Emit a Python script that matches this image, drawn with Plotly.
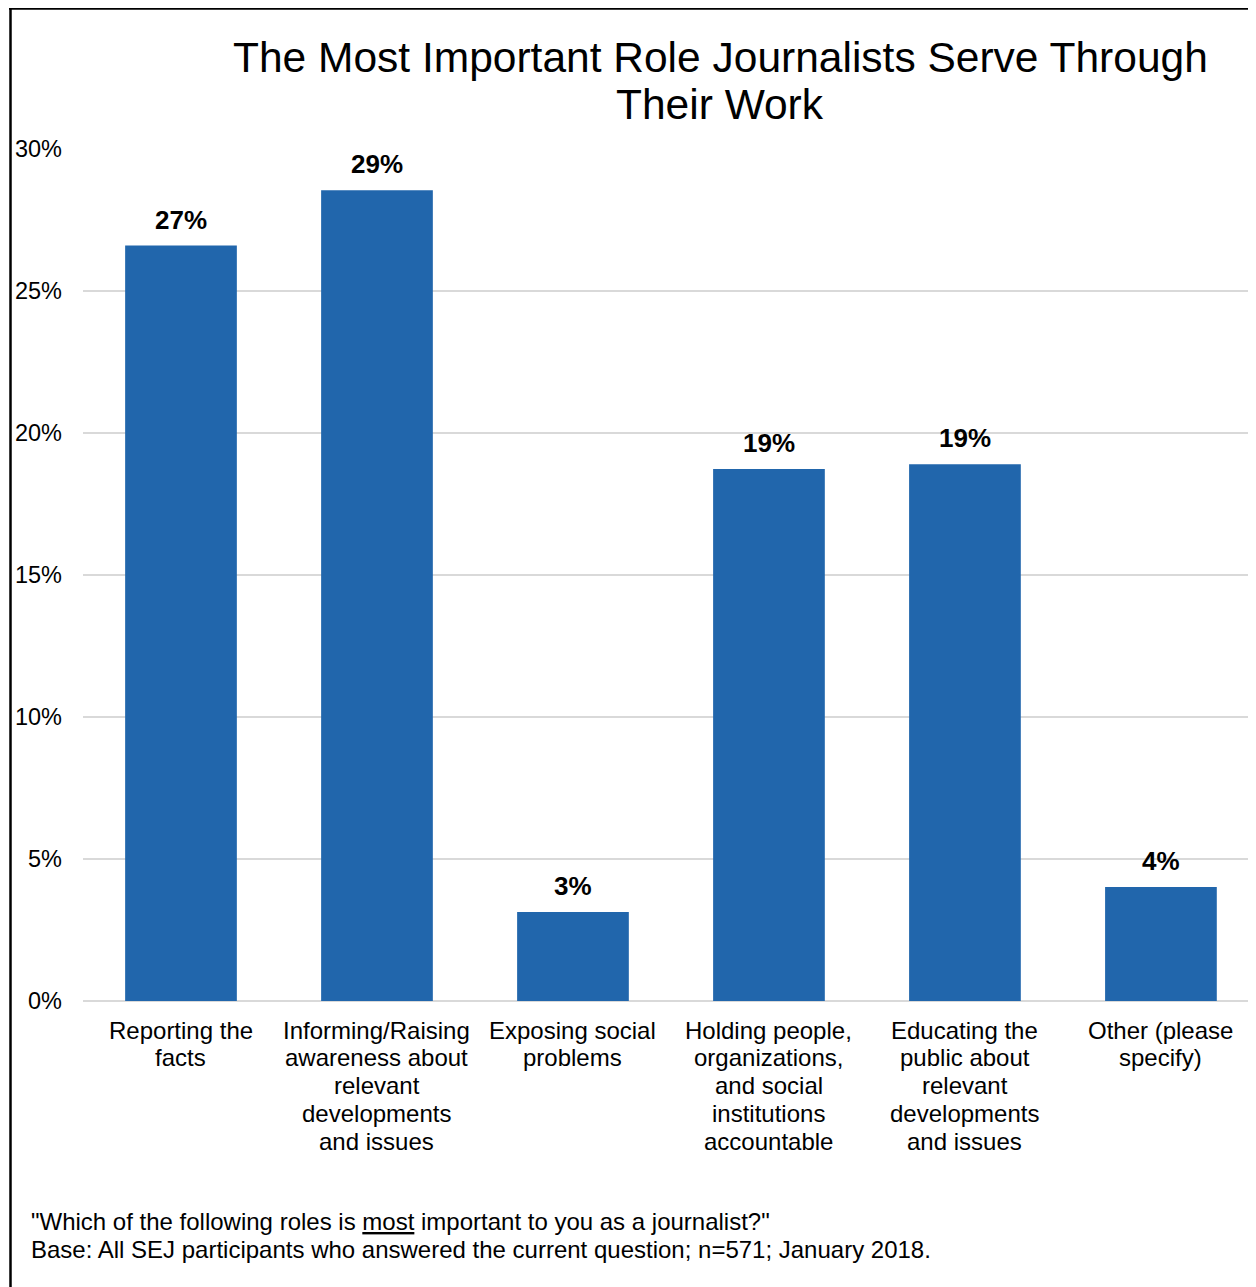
import plotly.graph_objects as go

categories = [
    "Reporting the<br>facts",
    "Informing/Raising<br>awareness about<br>relevant<br>developments<br>and issues",
    "Exposing social<br>problems",
    "Holding people,<br>organizations,<br>and social<br>institutions<br>accountable",
    "Educating the<br>public about<br>relevant<br>developments<br>and issues",
    "Other (please<br>specify)",
]
values = [26.6, 28.55, 3.13, 18.73, 18.9, 4.01]
value_labels = ["27%", "29%", "3%", "19%", "19%", "4%"]
y_ticks = [0, 5, 10, 15, 20, 25, 30]
y_tick_labels = ["0%", "5%", "10%", "15%", "20%", "25%", "30%"]
title_lines = ["The Most Important Role Journalists Serve Through", "Their Work"]
footer_lines = [
    '"Which of the following roles is <span style="text-decoration:underline">most</span> important to you as a journalist?"',
    "Base: All SEJ participants who answered the current question; n=571; January 2018.",
]

# page body has an 8px margin; figure coordinates = screen - 8
W, H = 1248, 1279
L, R, T, B = 75, 0, 141, 286
pw = W - L - R
ph = H - T - B

def px_x(x):
    return (x - L) / pw

def px_y(y):
    return (H - B - y) / ph

FONT = "Liberation Sans, Arial, sans-serif"

fig = go.Figure()
fig.add_trace(go.Bar(
    x=categories, y=values,
    marker=dict(color="#2166AC", line=dict(width=0)),
    width=0.57,
    hoverinfo="skip",
))

# value labels
for c, v, lab in zip(categories, values, value_labels):
    fig.add_annotation(
        x=c, y=v, text=f"<b>{lab}</b>", showarrow=False,
        yanchor="middle", yshift=26,
        font=dict(family=FONT, size=26, color="#000000"),
    )

# category labels (custom line spacing)
for c in categories:
    for i, line in enumerate(c.split("<br>")):
        fig.add_annotation(
            x=c, y=0, text=line, showarrow=False,
            yanchor="middle", yshift=-(29 + 27.75 * i),
            font=dict(family=FONT, size=24, color="#000000"),
        )

# title
for line, ys in zip(title_lines, [49, 97]):
    fig.add_annotation(
        xref="paper", yref="paper", x=px_x(712), y=px_y(ys),
        text=line, showarrow=False, xanchor="center", yanchor="middle",
        font=dict(family=FONT, size=42.5, color="#000000"),
    )

# footer
for line, ys in zip(footer_lines, [1213, 1241]):
    fig.add_annotation(
        xref="paper", yref="paper", x=px_x(21), y=px_y(ys),
        text=line, showarrow=False, xanchor="left", yanchor="middle", align="left",
        font=dict(family=FONT, size=24, color="#000000"),
    )

# frame lines (top and left)
fig.add_shape(type="line", xref="paper", yref="paper",
              x0=px_x(1), x1=px_x(W + 10), y0=px_y(0.5), y1=px_y(0.5),
              line=dict(color="#000000", width=2.5))
fig.add_shape(type="line", xref="paper", yref="paper",
              x0=px_x(2.5), x1=px_x(2.5), y0=px_y(-1), y1=px_y(H + 10),
              line=dict(color="#000000", width=2.5))

fig.update_layout(
    width=W, height=H,
    margin=dict(l=L, r=R, t=T, b=B, pad=0),
    paper_bgcolor="white", plot_bgcolor="white",
    showlegend=False,
    bargap=0.43,
    font=dict(family=FONT, size=22, color="#000000"),
)
fig.update_xaxes(
    range=[-0.5, 5.485],
    showgrid=False, showline=False, zeroline=False,
    showticklabels=False, ticks="",
)
fig.update_yaxes(
    range=[0, 30], tickvals=y_ticks, ticktext=y_tick_labels,
    showgrid=True, gridcolor="#D9D9D9", gridwidth=2,
    zeroline=True, zerolinecolor="#D9D9D9", zerolinewidth=2,
    showline=False, ticks="", ticklabelstandoff=20,
    tickfont=dict(family=FONT, size=23.5, color="#000000"),
)

fig.write_html("out.html")
